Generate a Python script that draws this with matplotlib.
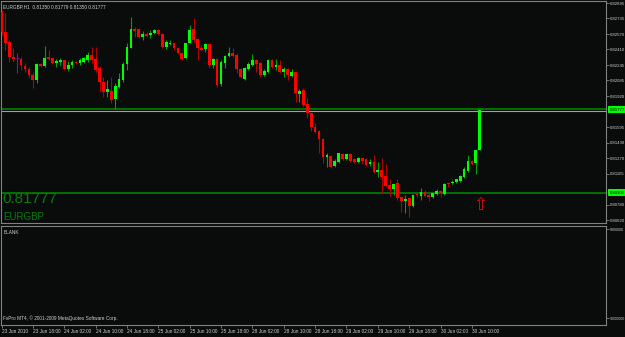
import matplotlib
matplotlib.use("Agg")
import matplotlib.pyplot as plt
import matplotlib.transforms as mtransforms
import numpy as np

# EURGBP H1 candles, 23 Jun 10:00 .. 30 Jun 12:00
opens = [0.82801, 0.82592, 0.82487, 0.82330, 0.82319, 0.82309, 0.82235, 0.82204, 0.82141, 0.82089,
         0.82256, 0.82235, 0.82330, 0.82319, 0.82267, 0.82277, 0.82298, 0.82204, 0.82246, 0.82277,
         0.82267, 0.82277, 0.82298, 0.82351, 0.82309, 0.82214, 0.82068, 0.81963, 0.81973, 0.81889,
         0.82015, 0.82089, 0.82256, 0.82424, 0.82623, 0.82623, 0.82539, 0.82571, 0.82560, 0.82581,
         0.82613, 0.82571, 0.82434, 0.82466, 0.82476, 0.82424, 0.82372, 0.82319, 0.82476, 0.82623,
         0.82518, 0.82424, 0.82413, 0.82466, 0.82246, 0.82309, 0.82047, 0.82267, 0.82340, 0.82372,
         0.82351, 0.82204, 0.82099, 0.82204, 0.82246, 0.82298, 0.82267, 0.82141, 0.82172, 0.82298,
         0.82225, 0.82246, 0.82172, 0.82204, 0.82131, 0.82172, 0.81942, 0.81984, 0.81837, 0.81743,
         0.81596, 0.81554, 0.81470, 0.81282, 0.81292, 0.81187, 0.81229, 0.81313, 0.81261, 0.81313,
         0.81261, 0.81229, 0.81271, 0.81261, 0.81208, 0.81229, 0.81124, 0.81145, 0.81082, 0.80988,
         0.80946, 0.81009, 0.80862, 0.80820, 0.80852, 0.80768, 0.80894, 0.80873, 0.80915, 0.80883,
         0.80862, 0.80894, 0.80925, 0.80894, 0.81009, 0.81009, 0.81020, 0.81030, 0.81072, 0.81135,
         0.81240, 0.81219, 0.81350]
highs = [0.82822, 0.82791, 0.82508, 0.82424, 0.82372, 0.82330, 0.82267, 0.82225, 0.82172, 0.82267,
         0.82267, 0.82445, 0.82403, 0.82330, 0.82309, 0.82319, 0.82298, 0.82288, 0.82298, 0.82288,
         0.82319, 0.82330, 0.82382, 0.82434, 0.82434, 0.82235, 0.82120, 0.82089, 0.82120, 0.82057,
         0.82162, 0.82277, 0.82476, 0.82749, 0.82644, 0.82634, 0.82602, 0.82592, 0.82613, 0.82623,
         0.82623, 0.82581, 0.82508, 0.82508, 0.82487, 0.82434, 0.82382, 0.82476, 0.82665, 0.82738,
         0.82529, 0.82455, 0.82476, 0.82476, 0.82319, 0.82319, 0.82298, 0.82351, 0.82434, 0.82424,
         0.82372, 0.82214, 0.82225, 0.82277, 0.82361, 0.82309, 0.82277, 0.82204, 0.82309, 0.82309,
         0.82309, 0.82298, 0.82225, 0.82214, 0.82204, 0.82183, 0.81994, 0.82005, 0.81900, 0.81753,
         0.81638, 0.81565, 0.81481, 0.81324, 0.81303, 0.81261, 0.81324, 0.81324, 0.81313, 0.81324,
         0.81271, 0.81282, 0.81271, 0.81271, 0.81261, 0.81303, 0.81229, 0.81271, 0.81208, 0.81051,
         0.80999, 0.81051, 0.80873, 0.80883, 0.80862, 0.80894, 0.80904, 0.80957, 0.80936, 0.80904,
         0.80904, 0.80946, 0.80936, 0.81009, 0.81020, 0.81040, 0.81051, 0.81093, 0.81177, 0.81303,
         0.81250, 0.81360, 0.81779]
lows = [0.82560, 0.82403, 0.82277, 0.82277, 0.82162, 0.82193, 0.82172, 0.82110, 0.82005, 0.82057,
        0.82225, 0.82225, 0.82298, 0.82256, 0.82225, 0.82246, 0.82193, 0.82183, 0.82214, 0.82256,
        0.82246, 0.82267, 0.82277, 0.82267, 0.82172, 0.81963, 0.81910, 0.81910, 0.81848, 0.81785,
        0.82005, 0.82068, 0.82193, 0.82424, 0.82539, 0.82529, 0.82508, 0.82539, 0.82529, 0.82571,
        0.82560, 0.82424, 0.82413, 0.82455, 0.82403, 0.82361, 0.82298, 0.82309, 0.82476, 0.82487,
        0.82298, 0.82392, 0.82382, 0.82214, 0.82214, 0.82015, 0.82026, 0.82214, 0.82330, 0.82330,
        0.82162, 0.82110, 0.82089, 0.82193, 0.82235, 0.82172, 0.82120, 0.82131, 0.82162, 0.82214,
        0.82193, 0.82162, 0.82120, 0.82089, 0.82120, 0.81858, 0.81858, 0.81806, 0.81690, 0.81554,
        0.81533, 0.81324, 0.81219, 0.81177, 0.81166, 0.81177, 0.81219, 0.81250, 0.81250, 0.81229,
        0.81219, 0.81219, 0.81208, 0.81187, 0.81187, 0.81114, 0.81072, 0.80904, 0.80967, 0.80873,
        0.80883, 0.80831, 0.80705, 0.80695, 0.80653, 0.80758, 0.80862, 0.80831, 0.80862, 0.80820,
        0.80852, 0.80883, 0.80862, 0.80883, 0.80967, 0.80999, 0.81009, 0.81020, 0.81061, 0.81124,
        0.81198, 0.81103, 0.81350]
closes = [0.82592, 0.82476, 0.82330, 0.82309, 0.82319, 0.82246, 0.82204, 0.82141, 0.82089, 0.82256,
          0.82235, 0.82319, 0.82309, 0.82267, 0.82288, 0.82298, 0.82204, 0.82246, 0.82277, 0.82267,
          0.82298, 0.82319, 0.82351, 0.82298, 0.82193, 0.82068, 0.81963, 0.81994, 0.81879, 0.82026,
          0.82099, 0.82256, 0.82434, 0.82623, 0.82602, 0.82539, 0.82571, 0.82550, 0.82581, 0.82613,
          0.82571, 0.82434, 0.82487, 0.82476, 0.82424, 0.82372, 0.82309, 0.82476, 0.82613, 0.82508,
          0.82424, 0.82403, 0.82466, 0.82246, 0.82309, 0.82036, 0.82277, 0.82340, 0.82372, 0.82340,
          0.82204, 0.82120, 0.82214, 0.82256, 0.82298, 0.82256, 0.82141, 0.82183, 0.82298, 0.82225,
          0.82246, 0.82172, 0.82204, 0.82141, 0.82172, 0.81952, 0.81973, 0.81827, 0.81743, 0.81596,
          0.81544, 0.81470, 0.81282, 0.81303, 0.81177, 0.81240, 0.81324, 0.81261, 0.81313, 0.81240,
          0.81229, 0.81271, 0.81240, 0.81198, 0.81229, 0.81124, 0.81145, 0.81072, 0.80978, 0.80946,
          0.80999, 0.80852, 0.80820, 0.80841, 0.80768, 0.80883, 0.80883, 0.80915, 0.80873, 0.80862,
          0.80904, 0.80925, 0.80904, 0.80999, 0.80999, 0.81020, 0.81051, 0.81082, 0.81156, 0.81240,
          0.81208, 0.81350, 0.81777]

time_labels = ["23 Jun 2010", "23 Jun 18:00", "24 Jun 02:00", "24 Jun 10:00", "24 Jun 18:00",
               "25 Jun 02:00", "25 Jun 10:00", "25 Jun 18:00", "28 Jun 02:00", "28 Jun 10:00",
               "28 Jun 18:00", "29 Jun 02:00", "29 Jun 10:00", "29 Jun 18:00", "30 Jun 02:00",
               "30 Jun 10:00"]
price_ticks = [0.82895, 0.82735, 0.82570, 0.82410, 0.82245, 0.82085, 0.81920,
               0.81595, 0.81430, 0.81270, 0.81105, 0.80780, 0.80620]
level_line = 0.80905
last_price = 0.81777

BG = "#090c0b"
FRAME = "#808080"
TXT = "#d0d0d0"

fig = plt.figure(figsize=(6.25, 3.37), dpi=100, facecolor=BG)
W, H = 625.0, 337.0
ax = fig.add_axes([1 / W, 1 - 223 / H, 605 / W, 222 / H], facecolor=BG)
ax2 = fig.add_axes([1 / W, 1 - 325 / H, 605 / W, 99 / H], facecolor=BG)

n = len(opens)
x = np.arange(n)
o = np.array(opens)
c = np.array(closes)
up = c > o
dn = c < o
doji = c == o

# wicks
ax.vlines(x[up], np.array(lows)[up], np.array(highs)[up], color="#00a000", lw=0.8, zorder=2)
ax.vlines(x[dn], np.array(lows)[dn], np.array(highs)[dn], color="#b00000", lw=0.8, zorder=2)
ax.vlines(x[doji], np.array(lows)[doji], np.array(highs)[doji], color="#a000a0", lw=0.8, zorder=2)
# bodies
ax.bar(x[up], (c - o)[up], bottom=o[up], width=0.7, color="#00ff00", lw=0, zorder=3)
ax.bar(x[dn], (c - o)[dn], bottom=o[dn], width=0.7, color="#ff0000", lw=0, zorder=3)
ax.hlines(o[doji], x[doji] - 0.35, x[doji] + 0.35, color="#a000a0", lw=0.8, zorder=3)

# horizontal lines
ax.axhline(last_price + 0.00010, color="#007000", lw=1.4, zorder=1)
ax.axhline(last_price - 0.00013, color="#a0a0a0", lw=0.8, zorder=1)
ax.axhline(level_line, color="#007000", lw=1.4, zorder=1)

ax.set_xlim(-0.13, 154.2)
ax.set_ylim(0.80590, 0.82917)
ax2.set_xlim(-0.13, 154.2)
ax2.set_ylim(-10.41e6, 9.61e6)

for a in (ax, ax2):
    for s in a.spines.values():
        s.set_color(FRAME)
        s.set_linewidth(0.8)
    a.yaxis.tick_right()
    a.tick_params(axis="y", colors=FRAME, labelcolor=TXT, length=2, width=0.6,
                  labelsize=3.1, pad=0.8)
    a.tick_params(axis="x", colors=FRAME, labelcolor=TXT, length=2, width=0.6,
                  labelsize=3.4, pad=1)

ax.set_xticks([])
ax.set_yticks(price_ticks)
ax.set_yticklabels([f"{p:.5f}" for p in price_ticks], family="Liberation Sans")

ax2.set_yticks([9e6, -9e6])
ax2.set_yticklabels(["9000000", "-9000000"], family="Liberation Sans", fontsize=2.6)
ax2.set_xticks(np.arange(0, n - 1, 8))
ax2.set_xticklabels(time_labels, family="Liberation Sans")
for lbl in ax2.get_xticklabels():
    lbl.set_ha("left")

# highlighted price boxes on the right scale
tr = mtransforms.blended_transform_factory(ax.transAxes, ax.transData)
for p in (last_price, level_line):
    ax.text(1.006, p, f"{p:.5f}", transform=tr, fontsize=3.1, family="Liberation Sans",
            color="black", va="center", ha="left", clip_on=False, zorder=6,
            bbox=dict(boxstyle="square,pad=0.35", fc="#00ff00", ec="none"))

# texts
ax.text(0.004, 0.985, "EURGBP,H1  0.81350 0.81779 0.81350 0.81777", transform=ax.transAxes,
        color=TXT, fontsize=3.4, family="Liberation Sans", va="top", ha="left")
ax.text(0.003, 0.108, "0.81777", transform=ax.transAxes, color="#0a7a0a", fontsize=11,
        family="Liberation Sans", va="center", ha="left")
ax.text(0.003, 0.027, "EURGBP", transform=ax.transAxes, color="#0a7a0a", fontsize=7,
        family="Liberation Sans", va="center", ha="left")
ax.text(n - 1, 0.80780, "\u21e7", color="#ff0000", fontsize=12, ha="center", va="center",
        family="DejaVu Sans", zorder=5)

ax2.text(0.004, 0.96, "BLANK", transform=ax2.transAxes, color=TXT, fontsize=3.4,
         family="Liberation Sans", va="top", ha="left")
ax2.text(0.004, 0.04, "FxPro MT4, \u00a9 2001-2009 MetaQuotes Software Corp.", transform=ax2.transAxes,
         color=TXT, fontsize=3.4, family="Liberation Sans", va="bottom", ha="left")

fig.savefig("out.png", dpi=100, facecolor=BG)
